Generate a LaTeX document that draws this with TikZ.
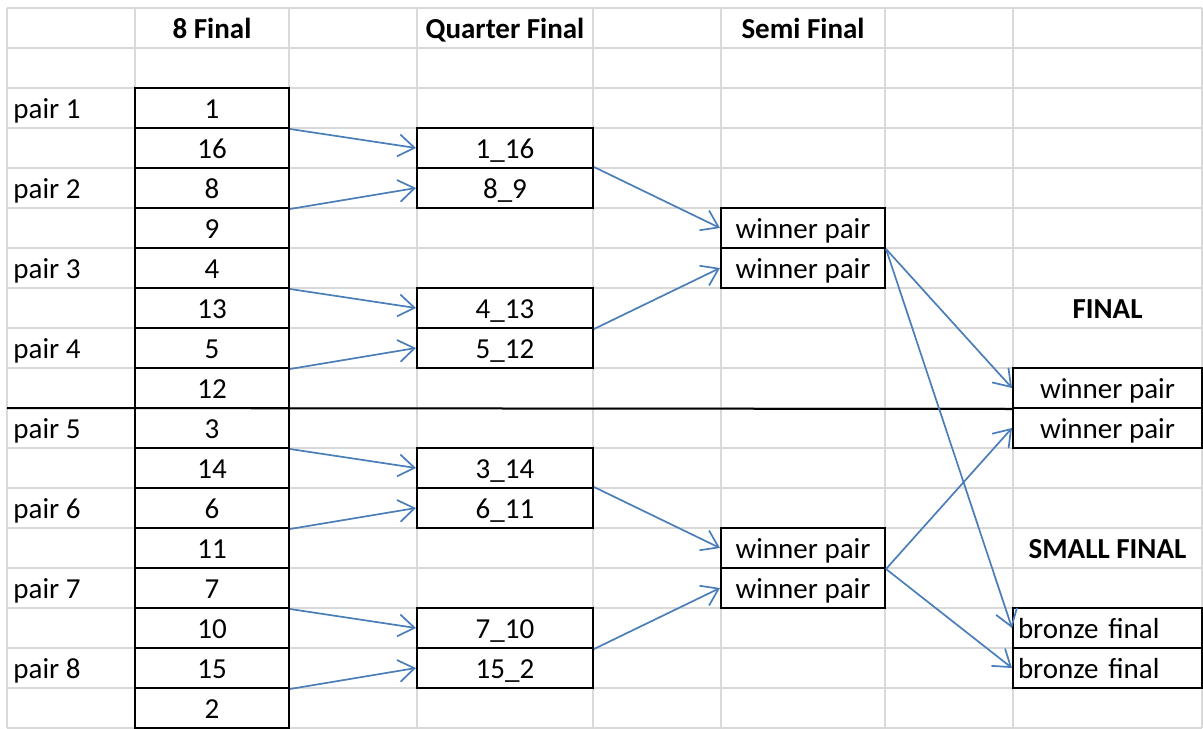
\documentclass[tikz,border=0pt]{standalone}
\usepackage{fontspec}
\setmainfont{Carlito}
\usetikzlibrary{arrows.meta}
\definecolor{linkblue}{HTML}{4A7EBB}
\definecolor{gridgray}{HTML}{D9D9D9}

\begin{document}
\begin{tikzpicture}[x=0.5pt, y=-0.5pt,
    cellfont/.style={font=\fontsize{14.5pt}{17pt}\selectfont, text height=14.5pt, text depth=3.6pt},
    txt/.style={cellfont, inner sep=0pt},
    head/.style={txt, font=\fontsize{14.5pt}{17pt}\selectfont\bfseries},
    pairlbl/.style={cellfont, anchor=west, inner xsep=3pt, inner ysep=0pt},
    box/.style={cellfont, draw, line width=1pt, inner sep=0pt, minimum height=20pt},
    seed/.style={box, minimum width=77pt},
    quarter/.style={box, minimum width=88pt},
    semi/.style={box, minimum width=82pt},
    final/.style={box, minimum width=94.5pt},
    bronze/.style={box, inner xsep=2.5pt, text width=89.5pt, align=left},
    gridline/.style={gridgray, line width=0.75pt},
    link/.style={-{Straight Barb[length=8pt,width=11pt]}, linkblue, line width=0.85pt}]
    \useasboundingbox (0,0) rectangle (1203,728);

    % sheet grid
    \foreach \gx in {7,135,289,417,593,721,885,1013,1202}
        \draw[gridline] (\gx,8) -- (\gx,728);
    \foreach \gy in {8,48,...,728}
        \draw[gridline] (7,\gy) -- (1202,\gy);

    % column titles
    \node[head] (heightfinal) at (212,28) {8 Final};
    \node[head] (hquarter) at (505,28) {Quarter Final};
    \node[head] (hsemi) at (803,28) {Semi Final};
    \node[head] (tfinal) at (1107.5,308) {FINAL};
    \node[head] (tsmall) at (1107.5,548) {SMALL FINAL};

    % pairs
    \node[pairlbl] (p1) at (7,108) {pair 1};
    \node[pairlbl] (p2) at (7,188) {pair 2};
    \node[pairlbl] (p3) at (7,268) {pair 3};
    \node[pairlbl] (p4) at (7,348) {pair 4};
    \node[pairlbl] (p5) at (7,428) {pair 5};
    \node[pairlbl] (p6) at (7,508) {pair 6};
    \node[pairlbl] (p7) at (7,588) {pair 7};
    \node[pairlbl] (p8) at (7,668) {pair 8};

    % 8 final
    \node[seed] (e1) at (212,108) {1};
    \node[seed] (e16) at (212,148) {16};
    \node[seed] (e8) at (212,188) {8};
    \node[seed] (e9) at (212,228) {9};
    \node[seed] (e4) at (212,268) {4};
    \node[seed] (e13) at (212,308) {13};
    \node[seed] (e5) at (212,348) {5};
    \node[seed] (e12) at (212,388) {12};
    \node[seed] (e3) at (212,428) {3};
    \node[seed] (e14) at (212,468) {14};
    \node[seed] (e6) at (212,508) {6};
    \node[seed] (e11) at (212,548) {11};
    \node[seed] (e7) at (212,588) {7};
    \node[seed] (e10) at (212,628) {10};
    \node[seed] (e15) at (212,668) {15};
    \node[seed] (e2) at (212,708) {2};

    % quarter final
    \node[quarter] (q1) at (505,148) {1\_16};
    \node[quarter] (q8) at (505,188) {8\_9};
    \node[quarter] (q4) at (505,308) {4\_13};
    \node[quarter] (q5) at (505,348) {5\_12};
    \node[quarter] (q3) at (505,468) {3\_14};
    \node[quarter] (q6) at (505,508) {6\_11};
    \node[quarter] (q7) at (505,628) {7\_10};
    \node[quarter] (q15) at (505,668) {15\_2};

    % semi final
    \node[semi] (sa) at (803,228) {winner pair};
    \node[semi] (sb) at (803,268) {winner pair};
    \node[semi] (sc) at (803,548) {winner pair};
    \node[semi] (sd) at (803,588) {winner pair};

    % final and small final
    \node[final] (fa) at (1107.5,388) {winner pair};
    \node[final] (fb) at (1107.5,428) {winner pair};
    \node[bronze] (ba) at (1107.5,628) {bronze final};
    \node[bronze] (bb) at (1107.5,668) {bronze final};

    % halves
    \coordinate (sepstart) at (7,408);
    \draw[line width=1pt] (sepstart) -- (fa.south west);

    \draw[link] (e1.south east) -- (q1.west);
    \draw[link] (e8.south east) -- (q8.west);
    \draw[link] (e4.south east) -- (q4.west);
    \draw[link] (e5.south east) -- (q5.west);
    \draw[link] (e3.south east) -- (q3.west);
    \draw[link] (e6.south east) -- (q6.west);
    \draw[link] (e7.south east) -- (q7.west);
    \draw[link] (e15.south east) -- (q15.west);

    \draw[link] (q8.north east) -- (sa.west);
    \draw[link] (q4.south east) -- (sb.west);
    \draw[link] (q6.north east) -- (sc.west);
    \draw[link] (q7.south east) -- (sd.west);

    \draw[link] (sa.south east) -- (fa.west);
    \draw[link] (sa.south east) -- (ba.west);
    \draw[link] (sc.south east) -- (fb.west);
    \draw[link] (sc.south east) -- (bb.west);
\end{tikzpicture}
\end{document}
